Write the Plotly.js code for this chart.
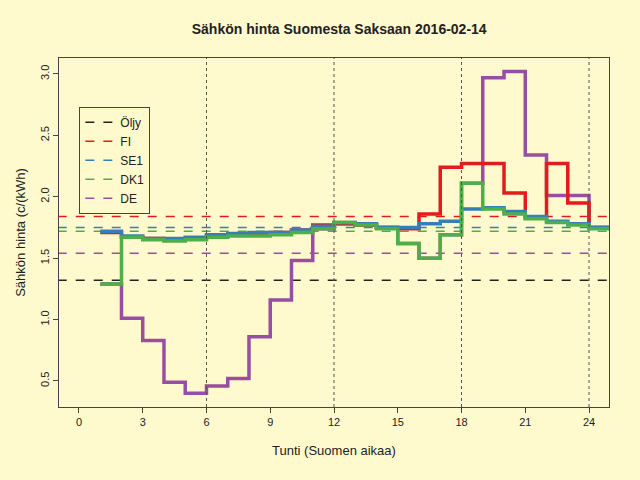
<!DOCTYPE html>
<html><head><meta charset="utf-8">
<script src="https://cdn.plot.ly/plotly-3.0.1.min.js"></script>
<style>body{margin:0;background:#fffacd}</style>
</head><body><div id="chart" style="width:640px;height:480px"></div>
<script>
const hours = [1,2,3,4,5,6,7,8,9,10,11,12,13,14,15,16,17,18,19,20,21,22,23,24];
const fi  = [1.71,1.67,1.66,1.65,1.66,1.68,1.69,1.70,1.71,1.73,1.77,1.78,1.77,1.75,1.74,1.86,2.24,2.27,2.27,2.03,1.83,2.27,1.95,1.75];
const se1 = [1.72,1.68,1.66,1.66,1.67,1.69,1.70,1.71,1.71,1.73,1.76,1.79,1.78,1.75,1.75,1.78,1.80,1.90,1.91,1.88,1.84,1.80,1.78,1.75];
const dk1 = [1.29,1.67,1.65,1.64,1.65,1.67,1.68,1.68,1.69,1.71,1.74,1.79,1.77,1.74,1.62,1.50,1.69,2.11,1.90,1.86,1.82,1.79,1.77,1.74];
const de  = [1.29,1.01,0.83,0.49,0.40,0.46,0.52,0.86,1.16,1.48,1.74,1.78,1.77,1.75,1.62,1.50,1.69,2.11,2.97,3.02,2.34,2.01,2.01,1.75];
const names = ['Öljy','FI','SE1','DK1','DE'];
const means = [1.32,1.84,1.75,1.72,1.54];
const colors = ['#222222','#e41a1c','#377eb8','#4daf4a','#984ea3'];

const xs = hours.concat([25]);
const ext = a => a.concat([a[a.length-1]]);
const traces = [];
names.forEach((n,i) => traces.push({
  x:[-1,26], y:[means[i],means[i]], mode:'lines', name:n,
  line:{color:colors[i], dash:'dash', width:1.5}
}));
[[de,4],[fi,1],[se1,2],[dk1,3]].forEach(([s,i]) => traces.push({
  x:xs, y:ext(s), mode:'lines', line:{shape:'hv', color:colors[i], width:3.5}, showlegend:false
}));
const vlines = [6,12,18,24].map(v => ({type:'line', x0:v, x1:v, y0:0, y1:1, yref:'paper',
  line:{color:'#555', width:1, dash:'dot'}}));
Plotly.newPlot('chart', traces, {
  width:640, height:480,
  paper_bgcolor:'#fffacd', plot_bgcolor:'#fffacd',
  font:{family:'Liberation Sans, Arial', size:11, color:'#222'},
  title:{text:'<b>Sähkön hinta Suomesta Saksaan 2016-02-14</b>', x:0.53, y:0.95, font:{size:14}},
  margin:{l:59, r:31, t:58, b:73},
  xaxis:{range:[-0.94,24.94], tickvals:[0,3,6,9,12,15,18,21,24], ticks:'outside', ticklen:5,
    showgrid:false, zeroline:false, showline:true, mirror:true, linecolor:'#444',
    title:{text:'Tunti (Suomen aikaa)', standoff:18}},
  yaxis:{range:[0.288,3.13], tickvals:[0.5,1,1.5,2,2.5,3], ticktext:['0.5','1.0','1.5','2.0','2.5','3.0'],
    tickangle:-90, ticks:'outside', ticklen:5, showgrid:false, zeroline:false, showline:true, mirror:true,
    linecolor:'#444', title:{text:'Sähkön hinta (c/(kWh)', standoff:10}},
  shapes:vlines,
  legend:{x:0.037, y:0.86, xanchor:'left', yanchor:'top', bgcolor:'#fffacd', bordercolor:'#444', borderwidth:1,
    font:{size:12}}
}, {displayModeBar:false});
</script></body></html>
